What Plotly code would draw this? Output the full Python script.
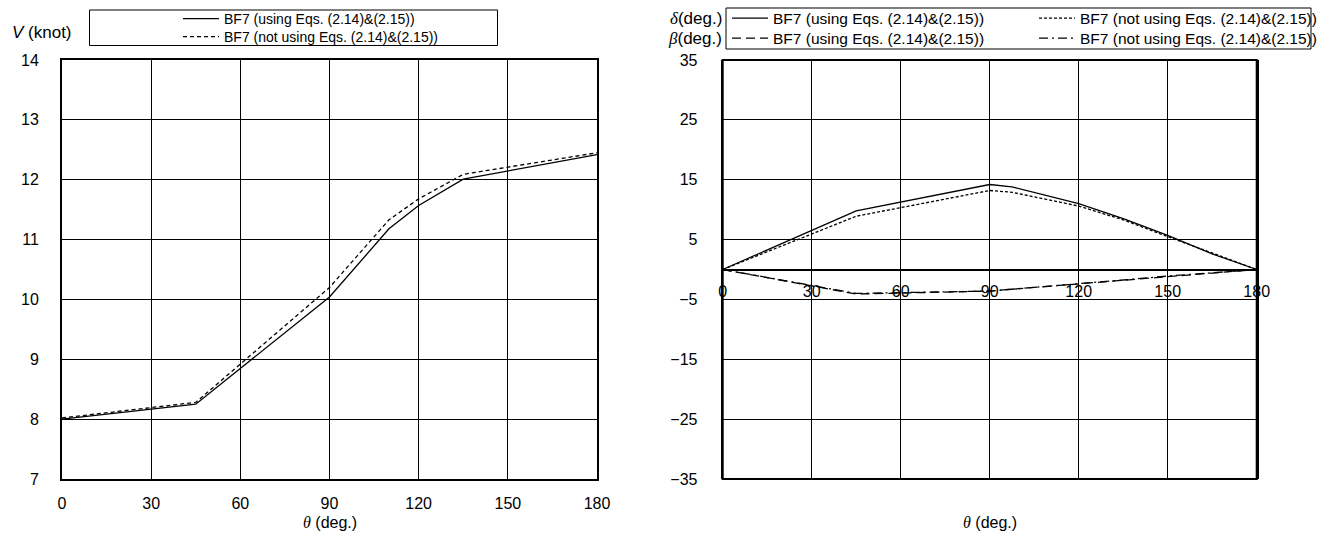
import plotly.graph_objects as go

W, H = 1318, 542

# ---------------- data ----------------
theta_V = [0, 45, 90, 110, 120, 135, 180]
V_using = [8.00, 8.25, 10.04, 11.18, 11.57, 12.01, 12.42]
V_not = [8.02, 8.28, 10.20, 11.33, 11.68, 12.09, 12.45]

theta_R = [0, 45, 90, 97.5, 120, 135, 150, 165, 180]
delta_using = [0, 9.8, 14.2, 13.8, 11.0, 8.5, 5.7, 2.6, 0]
delta_not = [0, 8.9, 13.2, 12.9, 10.6, 8.3, 5.5, 2.7, 0]
beta_using = [0, -4.1, -3.6, -3.3, -2.4, -1.7, -1.1, -0.5, 0]
beta_not = [0, -4.0, -3.6, -3.3, -2.45, -1.75, -1.1, -0.55, 0]

x_ticks = [0, 30, 60, 90, 120, 150, 180]
V_ticks = [7, 8, 9, 10, 11, 12, 13, 14]
R_ticks = [-35, -25, -15, -5, 5, 15, 25, 35]

lbl_using = "BF7 (using Eqs. (2.14)&(2.15))"
lbl_not = "BF7 (not using Eqs. (2.14)&(2.15))"

FONT = "Liberation Sans, Arial, sans-serif"
SERIF = "Liberation Serif, Times New Roman, serif"

def px_x(p):
    return p / W

def px_y(p):
    return 1 - p / H

fig = go.Figure()

lw = 1.3
fig.add_trace(go.Scatter(x=theta_V, y=V_using, mode="lines", name=lbl_using,
                         line=dict(color="black", width=lw), xaxis="x", yaxis="y",
                         legend="legend"))
fig.add_trace(go.Scatter(x=theta_V, y=V_not, mode="lines", name=lbl_not,
                         line=dict(color="black", width=lw, dash="4px,3px"), xaxis="x", yaxis="y",
                         legend="legend2"))

fig.add_trace(go.Scatter(x=theta_R, y=delta_using, mode="lines", name=lbl_using,
                         line=dict(color="black", width=lw), xaxis="x2", yaxis="y2",
                         legend="legend3"))
fig.add_trace(go.Scatter(x=theta_R, y=delta_not, mode="lines", name=lbl_not,
                         line=dict(color="black", width=lw, dash="3px,2px"), xaxis="x2", yaxis="y2",
                         legend="legend3"))
fig.add_trace(go.Scatter(x=theta_R, y=beta_using, mode="lines", name=lbl_using,
                         line=dict(color="black", width=lw, dash="9px,5px"), xaxis="x2", yaxis="y2",
                         legend="legend4"))
fig.add_trace(go.Scatter(x=theta_R, y=beta_not, mode="lines", name=lbl_not,
                         line=dict(color="black", width=lw, dash="9px,4px,2px,4px"), xaxis="x2", yaxis="y2",
                         legend="legend4"))

L_x0, L_x1 = 62, 597
R_x0, R_x1 = 722.7, 1256.7
Y_top, Y_bot = 60, 479

tickfont = dict(family=FONT, size=16, color="black")
grid = dict(showgrid=True, gridcolor="black", gridwidth=1, zeroline=False, ticks="",
            tickfont=tickfont, fixedrange=True, automargin=False)

legfont = dict(family=FONT, size=14, color="black")
legfont_r = dict(family=FONT, size=15.5, color="black")
legcommon = dict(bgcolor="rgba(0,0,0,0)", borderwidth=0, xanchor="left",
                 yanchor="middle", itemwidth=36, itemclick=False, itemdoubleclick=False,
                 tracegroupgap=0)

fig.update_layout(
    width=W, height=H,
    margin=dict(l=0, r=0, t=0, b=0, autoexpand=False),
    paper_bgcolor="white", plot_bgcolor="white",
    font=dict(family=FONT, color="black"),
    showlegend=True,
    xaxis=dict(domain=[px_x(L_x0), px_x(L_x1)], range=[0, 180], tickvals=x_ticks,
               showline=True, linecolor="black", linewidth=2, mirror=True,
               anchor="y", ticklabelstandoff=9, **grid),
    yaxis=dict(domain=[px_y(Y_bot), px_y(Y_top)], range=[7, 14], tickvals=V_ticks,
               showline=True, linecolor="black", linewidth=2, mirror=True,
               anchor="x", ticklabelstandoff=18, **grid),
    xaxis2=dict(domain=[px_x(R_x0), px_x(R_x1)], range=[0, 180], tickvals=x_ticks,
                showline=True, linecolor="black", linewidth=1.5, mirror=False,
                anchor="free", position=px_y(269.5), ticklabelstandoff=8, **grid),
    yaxis2=dict(domain=[px_y(Y_bot), px_y(Y_top)], range=[-35, 35], tickvals=R_ticks,
                showline=True, linecolor="black", linewidth=2, mirror=True,
                anchor="x2", ticklabelstandoff=20, **grid),
    legend=dict(x=px_x(178), y=px_y(19), orientation="v", font=legfont, **legcommon),
    legend2=dict(x=px_x(178), y=px_y(37), orientation="v", font=legfont, **legcommon),
    legend3=dict(x=px_x(727), y=px_y(18.5), orientation="h", entrywidth=256,
                 entrywidthmode="pixels", font=legfont_r, **legcommon),
    legend4=dict(x=px_x(727), y=px_y(38.5), orientation="h", entrywidth=256,
                 entrywidthmode="pixels", font=legfont_r, **legcommon),
)

shapes = [
    # legend boxes
    dict(type="rect", xref="paper", yref="paper", x0=px_x(89.5), x1=px_x(497.5),
         y0=px_y(45.5), y1=px_y(10), line=dict(color="black", width=1)),
    dict(type="rect", xref="paper", yref="paper", x0=px_x(726), x1=px_x(1311),
         y0=px_y(49), y1=px_y(8), line=dict(color="black", width=1)),
    # right chart frame
    dict(type="rect", xref="x2 domain", yref="y2 domain", x0=0, x1=1, y0=0, y1=1,
         line=dict(color="black", width=2)),
]
fig.update_layout(shapes=shapes)

ann = [
    dict(text="<i>V</i> (knot)", x=px_x(10), y=px_y(33), xanchor="left", yanchor="middle",
         font=dict(family=FONT, size=17, color="black")),
    dict(text="<span style='font-family:%s'><i>θ</i></span> (deg.)" % SERIF,
         x=px_x((L_x0 + L_x1) / 2), y=px_y(522), xanchor="center", yanchor="middle",
         font=dict(family=FONT, size=16, color="black")),
    dict(text="<span style='font-family:%s'><i>θ</i></span> (deg.)" % SERIF,
         x=px_x((R_x0 + R_x1) / 2), y=px_y(522), xanchor="center", yanchor="middle",
         font=dict(family=FONT, size=16, color="black")),
    dict(text="<span style='font-family:%s'><i>δ</i></span>(deg.)" % SERIF,
         x=px_x(724), y=px_y(18.5), xanchor="right", yanchor="middle",
         font=dict(family=FONT, size=17, color="black")),
    dict(text="<span style='font-family:%s'><i>β</i></span>(deg.)" % SERIF,
         x=px_x(724), y=px_y(38.5), xanchor="right", yanchor="middle",
         font=dict(family=FONT, size=17, color="black")),
]
for a in ann:
    a.update(xref="paper", yref="paper", showarrow=False)
fig.update_layout(annotations=ann)

fig.write_html("out.html")
